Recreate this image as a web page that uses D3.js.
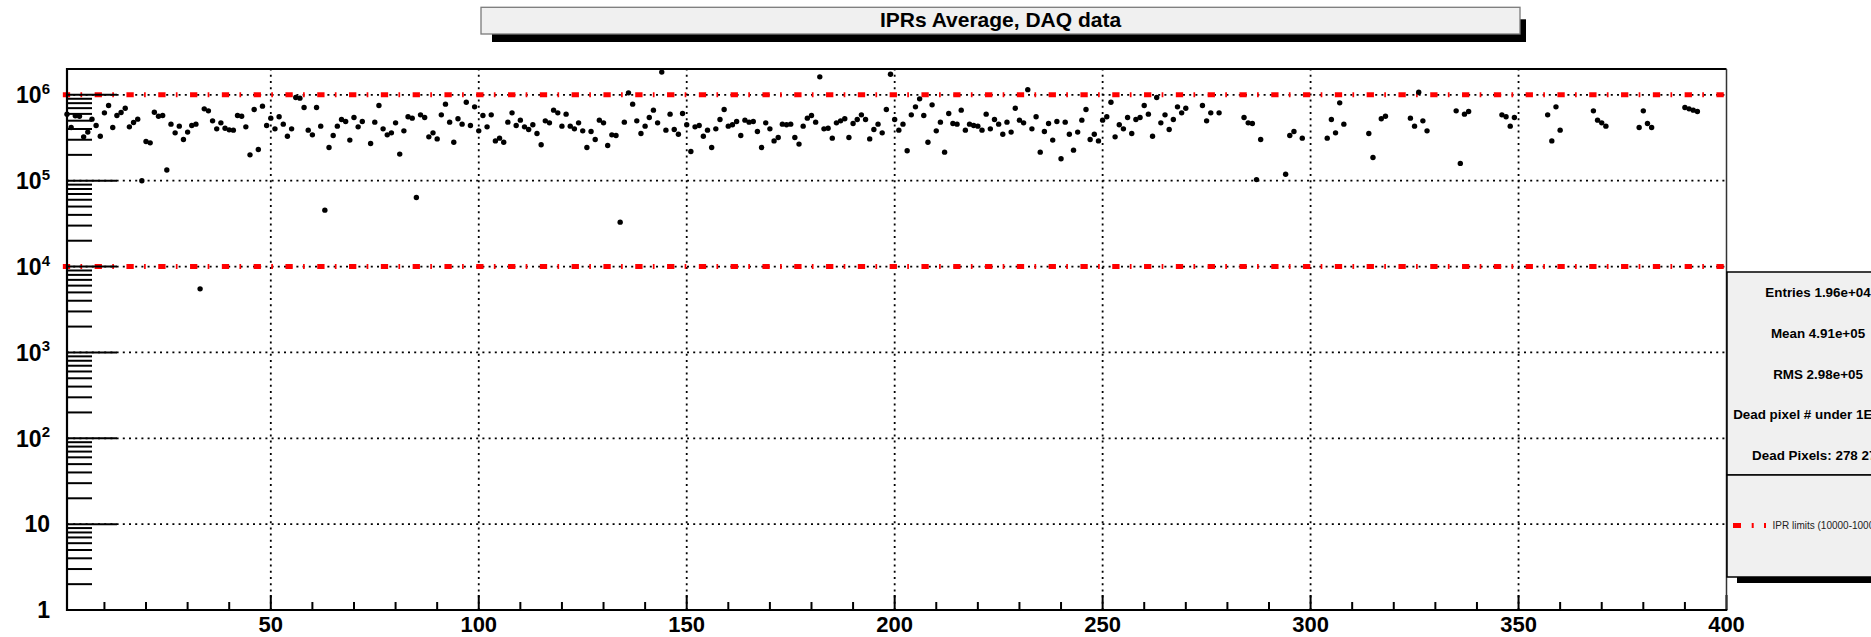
<!DOCTYPE html>
<html>
<head>
<meta charset="utf-8">
<script src="https://cdn.jsdelivr.net/npm/d3@7"></script>
<style>
  html, body { margin: 0; padding: 0; background: #fff; overflow: hidden; }
  svg { display: block; font-family: "Liberation Sans", Arial, Helvetica, sans-serif; }
</style>
</head>
<body>
<svg id="chart" width="1871" height="637"></svg>
<script>
// ---- data -------------------------------------------------------------
const chartTitle = "IPRs Average, DAQ data";

// pixel number of every measured point
const pixelIds = [
  1, 2, 3, 4, 5, 6, 7, 8, 9, 10,
  11, 12, 13, 14, 15, 16, 17, 18, 19, 20,
  21, 22, 23, 24, 25, 26, 27, 28, 29, 30,
  31, 32, 33, 34, 35, 36, 37, 38, 39, 40,
  41, 42, 43, 44, 45, 46, 47, 48, 49, 50,
  51, 52, 53, 54, 55, 56, 57, 58, 59, 60,
  61, 62, 63, 64, 65, 66, 67, 68, 69, 70,
  71, 72, 74, 75, 76, 77, 78, 79, 80,
  81, 82, 83, 84, 85, 86, 87, 88, 89, 90,
  91, 92, 93, 94, 95, 96, 97, 98, 99, 100,
  101, 102, 103, 104, 105, 106, 107, 108, 109, 110,
  111, 112, 113, 114, 115, 116, 117, 118, 119, 120,
  121, 122, 123, 124, 125, 126, 127, 128, 129, 130,
  131, 132, 133, 134, 135, 136, 137, 138, 139, 140,
  141, 142, 143, 144, 145, 146, 147, 148, 149, 150,
  151, 152, 153, 154, 155, 156, 157, 158, 159, 160,
  161, 162, 163, 164, 165, 166, 167, 168, 169, 170,
  171, 172, 173, 174, 175, 176, 177, 178, 179, 180,
  181, 182, 183, 184, 185, 186, 187, 188, 189, 190,
  191, 192, 193, 194, 195, 196, 197, 198, 199, 200,
  201, 202, 203, 204, 205, 206, 207, 208, 209, 210,
  211, 212, 213, 214, 215, 216, 217, 218, 219, 220,
  221, 222, 223, 224, 225, 226, 227, 228, 229, 230,
  231, 232, 233, 234, 235, 236, 237, 238, 239, 240,
  241, 242, 243, 244, 245, 246, 247, 248, 249, 250,
  251, 252, 253, 254, 255, 256, 257, 258, 259, 260,
  261, 262, 263, 264, 265, 266, 267, 268, 269, 270,
  274, 275, 276, 278,
  284, 285, 286, 287, 288, 294, 295, 296, 298,
  304, 305, 306, 307, 308, 314, 315, 317, 318,
  324, 325, 326, 327, 328, 335, 336, 337, 338,
  346, 347, 348, 349, 357, 358, 359, 360,
  368, 369, 370, 371, 379, 380, 381, 382,
  390, 391, 392, 393
];

// average IPR of each pixel, same order as pixelIds
const iprAverage = [
  5.96e5, 4.17e5, 5.70e5, 5.64e5, 3.24e5, 3.68e5, 5.21e5, 4.40e5, 3.30e5, 6.17e5,
  7.51e5, 4.17e5, 5.75e5, 6.22e5, 6.99e5, 4.24e5, 4.76e5, 5.21e5, 1.00e5, 2.86e5,
  2.76e5, 6.28e5, 5.64e5, 5.75e5, 1.33e5, 4.56e5, 3.61e5, 4.32e5, 3.02e5, 3.68e5,
  4.40e5, 4.56e5, 5.5e3, 6.87e5, 6.51e5, 4.98e5, 4.02e5, 4.72e5, 4.09e5, 3.91e5,
  3.88e5, 5.75e5, 5.64e5, 4.24e5, 2.00e5, 6.75e5, 2.31e5, 7.38e5, 4.40e5, 5.35e5,
  4.02e5, 5.55e5, 4.56e5, 3.30e5, 4.02e5, 9.31e5, 9.15e5, 7.12e5, 3.88e5, 3.42e5,
  7.12e5, 4.32e5, 4.54e4, 2.44e5, 3.36e5, 4.32e5, 5.16e5, 4.89e5, 2.97e5, 5.45e5,
  4.24e5, 4.89e5, 2.71e5, 4.81e5, 7.51e5, 4.02e5, 3.42e5, 3.61e5, 4.72e5,
  2.04e5, 3.81e5, 5.55e5, 5.35e5, 6.38e4, 5.85e5, 5.45e5, 3.24e5, 3.61e5, 3.07e5,
  5.85e5, 7.79e5, 4.81e5, 2.81e5, 5.26e5, 4.56e5, 8.21e5, 4.40e5, 7.25e5, 3.81e5,
  5.75e5, 4.24e5, 5.85e5, 2.91e5, 3.13e5, 2.81e5, 4.81e5, 6.17e5, 4.40e5, 5.07e5,
  4.24e5, 3.95e5, 4.48e5, 3.55e5, 2.62e5, 4.98e5, 4.72e5, 6.63e5, 6.17e5, 4.32e5,
  5.96e5, 4.32e5, 4.02e5, 4.72e5, 3.81e5, 2.44e5, 3.74e5, 3.02e5, 5.07e5, 4.72e5,
  2.57e5, 3.42e5, 3.36e5, 3.29e4, 4.81e5, 1.055e6, 7.79e5, 4.98e5, 3.55e5, 4.32e5,
  5.45e5, 6.63e5, 4.72e5, 1.84e6, 3.88e5, 5.96e5, 3.95e5, 3.48e5, 6.06e5, 4.48e5,
  2.19e5, 4.24e5, 4.40e5, 3.30e5, 3.88e5, 2.44e5, 4.02e5, 5.16e5, 6.75e5, 4.32e5,
  4.48e5, 4.89e5, 3.36e5, 5.07e5, 4.81e5, 4.89e5, 3.74e5, 2.44e5, 4.72e5, 4.02e5,
  2.91e5, 3.19e5, 4.56e5, 4.48e5, 4.56e5, 3.19e5, 2.67e5, 4.32e5, 5.35e5, 5.75e5,
  4.81e5, 1.62e6, 4.02e5, 4.09e5, 3.13e5, 4.72e5, 4.98e5, 5.26e5, 3.19e5, 4.64e5,
  5.16e5, 5.85e5, 5.16e5, 3.07e5, 3.95e5, 4.56e5, 3.61e5, 6.75e5, 1.74e6, 5.16e5,
  3.88e5, 4.56e5, 2.23e5, 5.85e5, 7.25e5, 8.98e5, 5.75e5, 2.81e5, 7.65e5, 3.81e5,
  4.81e5, 2.15e5, 6.06e5, 4.64e5, 4.56e5, 6.63e5, 3.88e5, 4.56e5, 4.40e5, 4.32e5,
  3.88e5, 5.96e5, 4.02e5, 5.16e5, 4.56e5, 3.48e5, 4.81e5, 3.68e5, 6.99e5, 5.07e5,
  4.72e5, 1.15e6, 4.02e5, 5.55e5, 2.15e5, 3.74e5, 4.64e5, 2.97e5, 4.89e5, 1.80e5,
  4.81e5, 3.48e5, 2.27e5, 3.68e5, 5.07e5, 6.75e5, 3.02e5, 3.48e5, 2.91e5, 5.07e5,
  5.55e5, 8.21e5, 3.24e5, 4.48e5, 4.02e5, 5.45e5, 3.55e5, 5.16e5, 5.45e5, 7.51e5,
  5.96e5, 3.30e5, 9.31e5, 4.72e5, 5.85e5, 3.95e5, 5.16e5, 7.25e5, 6.17e5, 6.99e5,
  7.51e5, 4.98e5, 6.17e5, 6.17e5,
  5.45e5, 4.72e5, 4.64e5, 1.03e5, 3.02e5, 1.19e5, 3.36e5, 3.74e5, 3.13e5,
  3.13e5, 5.16e5, 3.61e5, 8.07e5, 4.56e5, 3.55e5, 1.86e5, 5.26e5, 5.64e5,
  5.35e5, 4.32e5, 1.07e6, 4.98e5, 3.81e5, 6.51e5, 1.59e5, 5.96e5, 6.40e5,
  5.85e5, 5.55e5, 4.32e5, 5.45e5, 5.85e5, 2.91e5, 7.25e5, 3.88e5,
  6.51e5, 5.07e5, 4.72e5, 4.32e5, 4.17e5, 6.51e5, 4.64e5, 4.17e5,
  7.12e5, 6.87e5, 6.63e5, 6.40e5
];

// acceptance window drawn as two horizontal limit lines
const iprLimits = [1e4, 1e6];
const legendLabel = "IPR limits (10000-1000000)";

// axis ticks
const xMajorTicks = [50, 100, 150, 200, 250, 300, 350, 400];
const xMinorTicks = [10, 20, 30, 40, 60, 70, 80, 90, 110, 120, 130, 140, 160, 170, 180, 190,
                     210, 220, 230, 240, 260, 270, 280, 290, 310, 320, 330, 340, 360, 370, 380, 390];
const yDecades = [1, 10, 100, 1e3, 1e4, 1e5, 1e6];
const yLabelExponents = [null, null, 2, 3, 4, 5, 6];   // "1", "10", then 10^n
const yMinorFactors = [2, 3, 4, 5, 6, 7, 8, 9];

// statistics box
const statLines = [
  "Entries 1.96e+04",
  "Mean 4.91e+05",
  "RMS 2.98e+05",
  "Dead pixel # under 1E4: 29",
  "Dead Pixels: 278 279"
];

// ---- layout -----------------------------------------------------------
const frame = { left: 67, right: 1726.5, top: 69, bottom: 610 };
const svg = d3.select("#chart");

const x = d3.scaleLinear().domain([1, 400]).range([frame.left, frame.right]);
const y = d3.scaleLog().domain([1, 2e6]).range([frame.bottom, frame.top]);

const fontBold = "bold";

// ---- title pave -------------------------------------------------------
const titleBox = { x0: 481, x1: 1520, y0: 7.3, y1: 34, shadow: { dx: 6, dy: 8 } };
svg.append("rect")
  .attr("x", titleBox.x0 + 11).attr("y", titleBox.y0 + 12)
  .attr("width", titleBox.x1 - titleBox.x0 - 11 + titleBox.shadow.dx)
  .attr("height", titleBox.y1 - titleBox.y0 - 12 + titleBox.shadow.dy)
  .attr("fill", "#000");
svg.append("rect")
  .attr("x", titleBox.x0).attr("y", titleBox.y0)
  .attr("width", titleBox.x1 - titleBox.x0).attr("height", titleBox.y1 - titleBox.y0)
  .attr("fill", "#f0f0f0").attr("stroke", "#7a7a7a").attr("stroke-width", 1.3);
svg.append("text")
  .attr("x", (titleBox.x0 + titleBox.x1) / 2).attr("y", 27)
  .attr("text-anchor", "middle")
  .attr("font-size", 21).attr("font-weight", fontBold).attr("fill", "#000")
  .text(chartTitle);

// ---- grid -------------------------------------------------------------
const grid = svg.append("g")
  .attr("stroke", "#000").attr("stroke-width", 1.8).attr("stroke-dasharray", "2 4.2");
grid.selectAll("line.vg")
  .data(xMajorTicks.filter(v => v < 400))
  .join("line").attr("class", "vg")
  .attr("x1", d => x(d)).attr("x2", d => x(d))
  .attr("y1", frame.bottom).attr("y2", frame.top);
grid.selectAll("line.hg")
  .data(yDecades.filter(v => v > 1))
  .join("line").attr("class", "hg")
  .attr("x1", frame.left).attr("x2", frame.right)
  .attr("y1", d => y(d)).attr("y2", d => y(d));

// ---- limit lines ------------------------------------------------------
svg.append("g").selectAll("line")
  .data(iprLimits)
  .join("line")
  .attr("x1", x(0)).attr("x2", x(400))
  .attr("y1", d => y(d)).attr("y2", d => y(d))
  .attr("stroke", "#ff0000").attr("stroke-width", 5)
  .attr("stroke-dasharray", "7.3 10.3 1.7 12.5");

// ---- axes: ticks drawn inward, ROOT style ------------------------------
const ticks = svg.append("g").attr("stroke", "#000").attr("stroke-width", 2);
ticks.selectAll("line.xM").data(xMajorTicks).join("line").attr("class", "xM")
  .attr("x1", d => x(d)).attr("x2", d => x(d))
  .attr("y1", frame.bottom).attr("y2", frame.bottom - 15);
ticks.selectAll("line.xm").data(xMinorTicks).join("line").attr("class", "xm")
  .attr("x1", d => x(d)).attr("x2", d => x(d))
  .attr("y1", frame.bottom).attr("y2", frame.bottom - 8);

const yMinor = [];
yDecades.forEach(d => yMinorFactors.forEach(f => {
  const v = d * f;
  if (v <= y.domain()[1]) yMinor.push(v);
}));
ticks.selectAll("line.yM").data(yDecades.filter(v => v > 1)).join("line").attr("class", "yM")
  .attr("x1", frame.left).attr("x2", frame.left + 50)
  .attr("y1", d => y(d)).attr("y2", d => y(d));
ticks.selectAll("line.ym").data(yMinor).join("line").attr("class", "ym")
  .attr("x1", frame.left).attr("x2", frame.left + 25)
  .attr("y1", d => y(d)).attr("y2", d => y(d));

// frame
svg.append("line").attr("x1", frame.left).attr("x2", frame.right)
  .attr("y1", frame.top).attr("y2", frame.top).attr("stroke", "#000").attr("stroke-width", 2);
svg.append("line").attr("x1", frame.right).attr("x2", frame.right)
  .attr("y1", frame.top).attr("y2", frame.bottom).attr("stroke", "#333").attr("stroke-width", 1.5);
svg.append("line").attr("x1", frame.left).attr("x2", frame.left)
  .attr("y1", frame.top - 1).attr("y2", frame.bottom + 1).attr("stroke", "#000").attr("stroke-width", 2.2);
svg.append("line").attr("x1", frame.left - 1).attr("x2", frame.right + 0.75)
  .attr("y1", frame.bottom).attr("y2", frame.bottom).attr("stroke", "#000").attr("stroke-width", 2.2);

// x labels
svg.append("g").selectAll("text").data(xMajorTicks).join("text")
  .attr("x", d => x(d)).attr("y", frame.bottom + 22)
  .attr("text-anchor", "middle").attr("font-size", 22).attr("font-weight", fontBold)
  .text(d => d);

// y labels with superscript exponents
const yLab = svg.append("g").selectAll("text").data(yDecades).join("text")
  .attr("x", 50).attr("y", d => y(d)).attr("dy", "0.36em")
  .attr("text-anchor", "end").attr("font-size", 23).attr("font-weight", fontBold);
yLab.each(function (d, i) {
  const t = d3.select(this);
  const e = yLabelExponents[i];
  if (e === null) { t.text(d3.format("d")(d)); return; }
  t.append("tspan").text("10");
  t.append("tspan").attr("font-size", 15).attr("dy", "-0.62em").text(e);
});

// ---- points -----------------------------------------------------------
svg.append("g").selectAll("circle")
  .data(pixelIds.map((p, i) => [p, iprAverage[i]]))
  .join("circle")
  .attr("cx", d => x(d[0])).attr("cy", d => y(d[1]))
  .attr("r", 2.7).attr("fill", "#000");

// ---- statistics + legend pave -----------------------------------------
const stats = { x0: 1727, x1: 1909, y0: 272, ySplit: 475, y1: 577 };
svg.append("rect")
  .attr("x", stats.x0 + 10).attr("y", stats.y0 + 10)
  .attr("width", stats.x1 - stats.x0).attr("height", stats.y1 - stats.y0 - 4)
  .attr("fill", "#000");
svg.append("rect")
  .attr("x", stats.x0).attr("y", stats.y0)
  .attr("width", stats.x1 - stats.x0).attr("height", stats.ySplit - stats.y0)
  .attr("fill", "#f0f0f0").attr("stroke", "#000").attr("stroke-width", 1.5);
svg.append("rect")
  .attr("x", stats.x0).attr("y", stats.ySplit)
  .attr("width", stats.x1 - stats.x0).attr("height", stats.y1 - stats.ySplit)
  .attr("fill", "#f0f0f0").attr("stroke", "#000").attr("stroke-width", 1.5);

const statStep = (stats.ySplit - stats.y0) / statLines.length;
svg.append("g").selectAll("text").data(statLines).join("text")
  .attr("x", (stats.x0 + stats.x1) / 2)
  .attr("y", (d, i) => stats.y0 + statStep * (i + 0.5) + 5)
  .attr("text-anchor", "middle").attr("font-size", 13.4).attr("font-weight", fontBold)
  .attr("fill", "#000")
  .text(d => d);

// legend entry
const legY = (stats.ySplit + stats.y1) / 2 - 0.5;
svg.append("line")
  .attr("x1", stats.x0 + 6).attr("x2", stats.x0 + 39)
  .attr("y1", legY).attr("y2", legY)
  .attr("stroke", "#ff0000").attr("stroke-width", 5)
  .attr("stroke-dasharray", "8 10.7 2 10.3");
svg.append("text")
  .attr("x", stats.x0 + 45.5).attr("y", legY + 3.5)
  .attr("font-size", 10).attr("fill", "#222")
  .text(legendLabel);
</script>
</body>
</html>
